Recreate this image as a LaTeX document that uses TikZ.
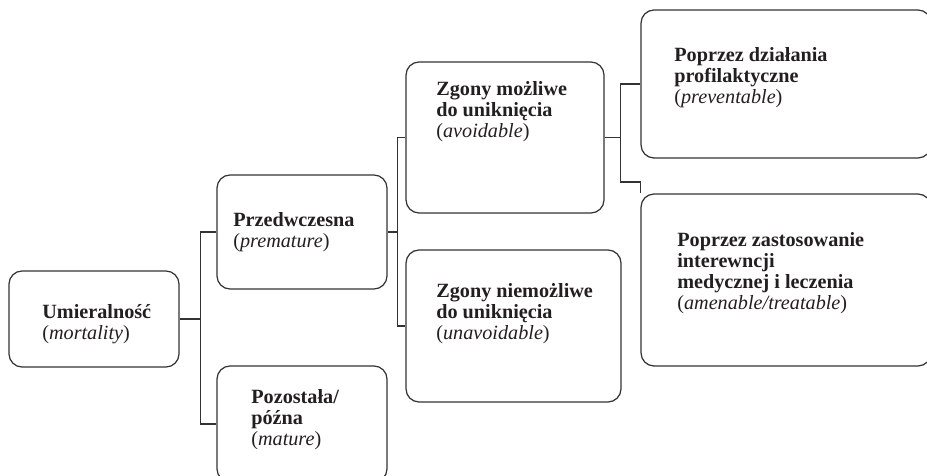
\documentclass[tikz,border=0pt]{standalone}
\usepackage{fontspec}
\setmainfont{Liberation Serif}
\usetikzlibrary{positioning}
\definecolor{linegray}{HTML}{333333}
\definecolor{textgray}{HTML}{231F20}
\begin{document}
\begin{tikzpicture}[x=0.02cm, y=-0.02cm,
  box/.style={draw=linegray, line width=0.7pt, rounded corners=0.26cm, inner sep=0pt},
  txt/.style={anchor=north west, align=left, inner sep=0pt, text=textgray,
    font=\fontsize{11.5}{12}\selectfont},
  link/.style={draw=linegray, line width=0.6pt}]
  \useasboundingbox (0,0) rectangle (927,476);
  \clip (0,0) rectangle (927,476);

  % Boxes
  \node[box, minimum width=3.4cm, minimum height=1.92cm] (umier) at (94,319) {};
  \node[box, minimum width=3.4cm, minimum height=2.28cm] (przed) at (302,232) {};
  \node[box, minimum width=3.4cm, minimum height=2.32cm] (pozost) at (302,424) {};
  \node[box, minimum width=3.96cm, minimum height=3.02cm] (avoid) at (505,137.5) {};
  \node[box, minimum width=4.3cm, minimum height=3.04cm] (unavoid) at (513.5,326) {};
  \node[box, minimum width=5.8cm, minimum height=2.96cm] (prev) at (786,84) {};
  \node[box, minimum width=5.8cm, minimum height=3.44cm] (treat) at (786,280) {};

  % Labels
  \node[txt] (umiertxt) at (42,304) {\textbf{Umieralność}\\(\textit{mortality})};
  \node[txt] (przedtxt) at (233,212) {\textbf{Przedwczesna}\\(\textit{premature})};
  \node[txt] (pozosttxt) at (251,389) {\textbf{Pozostała/}\\\textbf{późna}\\(\textit{mature})};
  \node[txt] (avoidtxt) at (436,81) {\textbf{Zgony możliwe}\\\textbf{do uniknięcia}\\(\textit{avoidable})};
  \node[txt] (unavoidtxt) at (436,283) {\textbf{Zgony niemożliwe}\\\textbf{do uniknięcia}\\(\textit{unavoidable})};
  \node[txt] (prevtxt) at (674,47) {\textbf{Poprzez działania}\\\textbf{profilaktyczne}\\(\textit{preventable})};
  \node[txt] (treattxt) at (677,232) {\textbf{Poprzez zastosowanie}\\\textbf{interewncji}\\\textbf{medycznej i leczenia}\\(\textit{amenable/treatable})};

  % Connectors
  \draw[link] (umier.east) -- ++(21,0) coordinate (j1);
  \draw[link] (przed.west) -| (j1) |- (pozost.west);
  \draw[link] (przed.east) -- ++(10,0) coordinate (j2);
  \draw[link] (avoid.west) -| (j2) |- (unavoid.west);
  \draw[link] (avoid.east) -- ++(16,0) coordinate (j3);
  \draw[link] (prev.west) -| (j3) -- ++(0,44.5) -| (treat.north west);
\end{tikzpicture}
\end{document}
